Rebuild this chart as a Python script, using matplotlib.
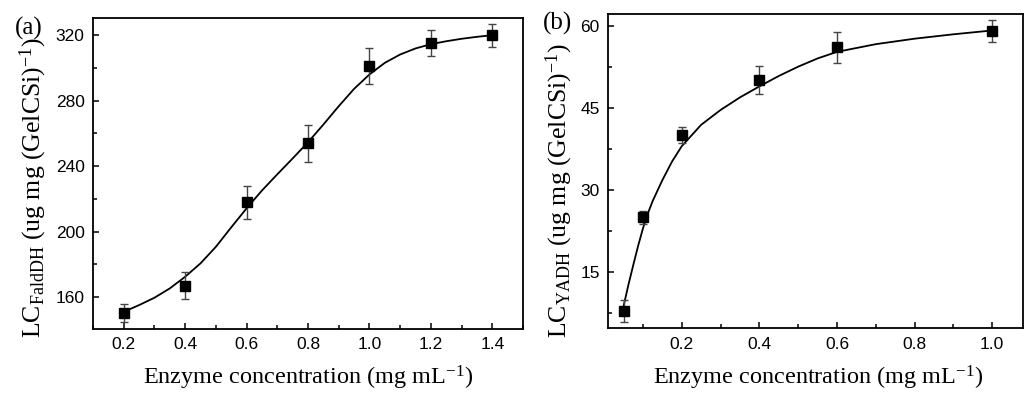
import numpy as np
import matplotlib
matplotlib.use("Agg")
import matplotlib.pyplot as plt
from matplotlib.ticker import MultipleLocator

plt.rcParams['font.family'] = 'Liberation Sans'
plt.rcParams['mathtext.fontset'] = 'custom'
plt.rcParams['mathtext.rm'] = 'Liberation Serif'
plt.rcParams['mathtext.it'] = 'Liberation Serif:italic'

# (a) FaldDH loading vs enzyme concentration
conc_a = [0.2, 0.4, 0.6, 0.8, 1.0, 1.2, 1.4]
lc_a = [150, 167, 218, 254, 301, 315, 320]
err_a = [5.5, 8.3, 10, 11.3, 11, 8, 7]
# fitted curve
fit_x_a = [0.2, 0.25, 0.3, 0.35, 0.4, 0.45, 0.5, 0.55, 0.6, 0.65, 0.7, 0.75, 0.8,
           0.85, 0.9, 0.95, 1.0, 1.05, 1.1, 1.15, 1.2, 1.25, 1.3, 1.35, 1.4]
fit_y_a = [151, 155.1, 159.6, 165.3, 172.4, 180.6, 190.7, 202.6, 214.2, 225.1, 235, 244.7, 254.6,
           265.4, 276.6, 287.2, 296, 303.1, 308.2, 311.9, 314.5, 316.3, 317.8, 319, 320]

# (b) YADH loading vs enzyme concentration
conc_b = [0.05, 0.1, 0.2, 0.4, 0.6, 1.0]
lc_b = [7.9, 25, 40, 50, 56, 59]
err_b = [2, 1.15, 1.5, 2.55, 2.8, 2]
fit_x_b = [0.05, 0.0625, 0.075, 0.0875, 0.1, 0.1125, 0.125, 0.15, 0.175, 0.2, 0.25, 0.3, 0.35,
           0.4, 0.45, 0.5, 0.55, 0.6, 0.7, 0.8, 0.9, 1.0]
fit_y_b = [8.8, 12.7, 16.3, 19.8, 23.0, 25.7, 28.0, 31.8, 35.2, 38.0, 41.9, 44.6, 46.9,
           48.9, 50.8, 52.5, 54.0, 55.2, 56.6, 57.6, 58.4, 59.1]

W, H = 1024, 396
fig = plt.figure(figsize=(W / 100, H / 100), dpi=100)

ax1 = fig.add_axes([93 / W, 1 - 329 / H, (523 - 93) / W, (329 - 18) / H])
ax2 = fig.add_axes([608 / W, 1 - 328.3 / H, (1022.5 - 608) / W, (328.3 - 14) / H])


def style(ax):
    for s in ax.spines.values():
        s.set_linewidth(1.3)
    ax.tick_params(which='both', direction='in', top=False, right=False,
                   labelsize=12.5, width=1.1)
    ax.tick_params(which='major', length=4.5, pad=6)
    ax.tick_params(which='minor', length=3)


# panel a
ax1.plot(fit_x_a, fit_y_a, color='black', lw=1.3, zorder=2)
ax1.errorbar(conc_a, lc_a, yerr=err_a, fmt='s', color='black', ms=6.5,
             ecolor='#444444', elinewidth=1.0, capsize=3, capthick=1.0, zorder=3)
ax1.set_xlim(0.1, 1.5)
ax1.set_ylim(140.5, 330.5)
ax1.set_xticks([0.2, 0.4, 0.6, 0.8, 1.0, 1.2, 1.4])
ax1.set_yticks([160, 200, 240, 280, 320])
ax1.xaxis.set_minor_locator(MultipleLocator(0.1))
ax1.yaxis.set_minor_locator(MultipleLocator(20))
style(ax1)

# panel b
ax2.plot(fit_x_b, fit_y_b, color='black', lw=1.3, zorder=2)
ax2.errorbar(conc_b, lc_b, yerr=err_b, fmt='s', color='black', ms=6.5,
             ecolor='#444444', elinewidth=1.0, capsize=3, capthick=1.0, zorder=3)
ax2.set_xlim(0.01, 1.078)
ax2.set_ylim(4.8, 62.1)
ax2.set_xticks([0.2, 0.4, 0.6, 0.8, 1.0])
ax2.set_yticks([15, 30, 45, 60])
ax2.xaxis.set_minor_locator(MultipleLocator(0.1))
ax2.yaxis.set_minor_locator(MultipleLocator(7.5))
style(ax2)

serif = 'Liberation Serif'
xlab = r'Enzyme concentration (mg mL$^{\mathrm{-1}}$)'
fig.text(308 / W, 1 - 378 / H, xlab, family=serif, fontsize=17.5, ha='center', va='center')
fig.text(818 / W, 1 - 378 / H, xlab, family=serif, fontsize=17.5, ha='center', va='center')

fig.text(33 / W, 1 - 188 / H, r'LC$_{\mathrm{FaldDH}}$ (ug mg (GelCSi)$^{\mathrm{-1}}$)',
         family=serif, fontsize=18.5, rotation=90, ha='center', va='center')
fig.text(559 / W, 1 - 191 / H, r'LC$_{\mathrm{YADH}}$ (ug mg (GelCSi)$^{\mathrm{-1}}$)',
         family=serif, fontsize=18.5, rotation=90, ha='center', va='center')

fig.text(29 / W, 1 - 28 / H, '(a)', family=serif, fontsize=18, ha='center', va='center')
fig.text(558 / W, 1 - 23 / H, '(b)', family=serif, fontsize=18, ha='center', va='center')

fig.savefig('out.png', dpi=100)
